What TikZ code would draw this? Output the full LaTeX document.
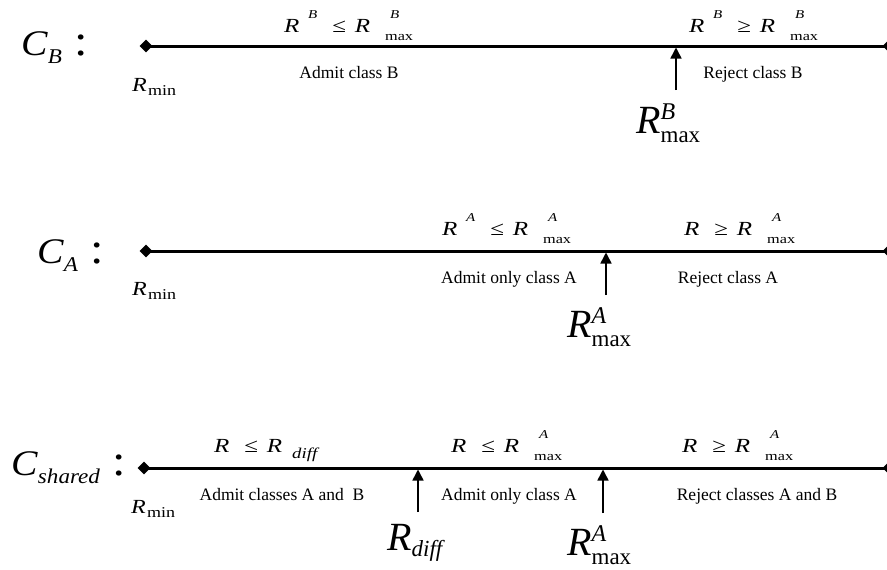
\documentclass[tikz,border=0pt]{standalone}
\usepackage{graphicx}
\usepackage{fontspec}
\setmainfont{Liberation Serif}
\usetikzlibrary{arrows.meta,shapes.geometric}

\newcommand{\fs}[1]{\fontsize{#1}{#1}\selectfont}
\newcommand{\wide}[2]{\scalebox{#1}[1]{#2}}
% labels above the lines
\newcommand{\iR}{{\fs{20}\textit{R}}}
\newcommand{\iRup}[1]{\iR\hspace{7pt}\raisebox{14pt}{\fs{12}\itshape #1}}
\newcommand{\iRmax}[1]{\iR\hspace{12pt}\rlap{\hspace{4pt}\raisebox{14pt}{\fs{12}\itshape #1}}\raisebox{-8pt}{\fs{13}max}}
\newcommand{\iRdiff}{\iR\hspace{8pt}\raisebox{-6pt}{\fs{15}\itshape diff}}
\newcommand{\rel}[1]{\hspace{12pt}{\fs{20}#1}\hspace{7pt}}
% labels under the lines
\newcommand{\Rmin}{\wide{1.2}{\fs{20}\textit{R}\hspace{1pt}\raisebox{-4pt}{\fs{15}min}}}
\newcommand{\bigRmax}[1]{\fs{40}\textit{R}\rlap{\raisebox{14pt}{\fs{24}\itshape #1}}\raisebox{-9pt}{\fs{23}max}}
\newcommand{\bigRdiff}{\fs{40}\textit{R}\raisebox{-6pt}{\fs{23}\itshape diff}}
\newcommand{\Clab}[1]{\wide{1.1}{\fs{36}\textit{C}\raisebox{-8pt}{\fs{21}\itshape #1}\hspace{11pt}{\fs{44}:}}}

\begin{document}
\begin{tikzpicture}[x=1pt,y=-1pt,
    txt/.style={inner sep=0pt,anchor=base},
    lab/.style={inner sep=0pt,anchor=base west},
    endpt/.style={diamond,fill=black,inner sep=0pt,minimum size=13pt},
    axis/.style={line width=3pt},
    pointer/.style={line width=1.5pt,-{Triangle[width=11pt,length=11pt]}}]
  \useasboundingbox (0,0) rectangle (887,570);

  % C_B
  \node[lab] (cb) at (21,55) {\Clab{B}};
  \node[endpt] (lb) at (146,46) {};
  \node[endpt] (rb) at (889,46) {};
  \draw[axis] (lb.center) -- (rb.center);
  \node[lab] (minb) at (132,91) {\Rmin};
  \node[lab] (leb) at (284,32) {\wide{1.25}{\iRup{B}\rel{≤}\iRmax{B}}};
  \node[lab] (geb) at (689,32) {\wide{1.25}{\iRup{B}\rel{≥}\iRmax{B}}};
  \node[txt] (adb) at (349,78) {\fs{17.5}Admit class B};
  \node[txt] (rjb) at (753,78) {\fs{17.5}Reject class B};
  \node[lab] (maxb) at (636,133) {\bigRmax{B}};
  \coordinate (pb) at (676,47.5);
  \coordinate (tb) at (676,90);
  \draw[pointer] (tb) -- (pb);

  % C_A
  \node[lab] (ca) at (37,263) {\Clab{A}};
  \node[endpt] (la) at (146,251) {};
  \node[endpt] (ra) at (889,251) {};
  \draw[axis] (la.center) -- (ra.center);
  \node[lab] (mina) at (132,295) {\Rmin};
  \node[lab] (lea) at (442,235) {\wide{1.25}{\iRup{A}\rel{≤}\iRmax{A}}};
  \node[lab] (gea) at (684,235) {\wide{1.25}{\iR\rel{≥}\iRmax{A}}};
  \node[txt] (ada) at (509,283) {\fs{17.5}Admit only class A};
  \node[txt] (rja) at (728,283) {\fs{17.5}Reject class A};
  \node[lab] (maxa) at (567,337) {\bigRmax{A}};
  \coordinate (pa) at (606,252.5);
  \coordinate (ta) at (606,295);
  \draw[pointer] (ta) -- (pa);

  % C_shared
  \node[lab] (cs) at (11,475) {\Clab{shared}};
  \node[endpt] (ls) at (144,468) {};
  \node[endpt] (rs) at (889,468) {};
  \draw[axis] (ls.center) -- (rs.center);
  \node[lab] (mins) at (131,513) {\Rmin};
  \node[lab] (les) at (214,452) {\wide{1.25}{\iR\rel{≤}\iRdiff}};
  \node[lab] (lems) at (451,452) {\wide{1.25}{\iR\rel{≤}\iRmax{A}}};
  \node[lab] (gems) at (682,452) {\wide{1.25}{\iR\rel{≥}\iRmax{A}}};
  \node[txt] (ads) at (282,500) {\fs{17.5}Admit classes A and\ \ B};
  \node[txt] (ods) at (509,500) {\fs{17.5}Admit only class A};
  \node[txt] (rjs) at (757,500) {\fs{17.5}Reject classes A and B};
  \node[lab] (diffs) at (387,550) {\bigRdiff};
  \node[lab] (maxs) at (567,555) {\bigRmax{A}};
  \coordinate (pd) at (418,469.5);
  \coordinate (td) at (418,512);
  \draw[pointer] (td) -- (pd);
  \coordinate (pm) at (603,469.5);
  \coordinate (tm) at (603,513);
  \draw[pointer] (tm) -- (pm);
\end{tikzpicture}
\end{document}
